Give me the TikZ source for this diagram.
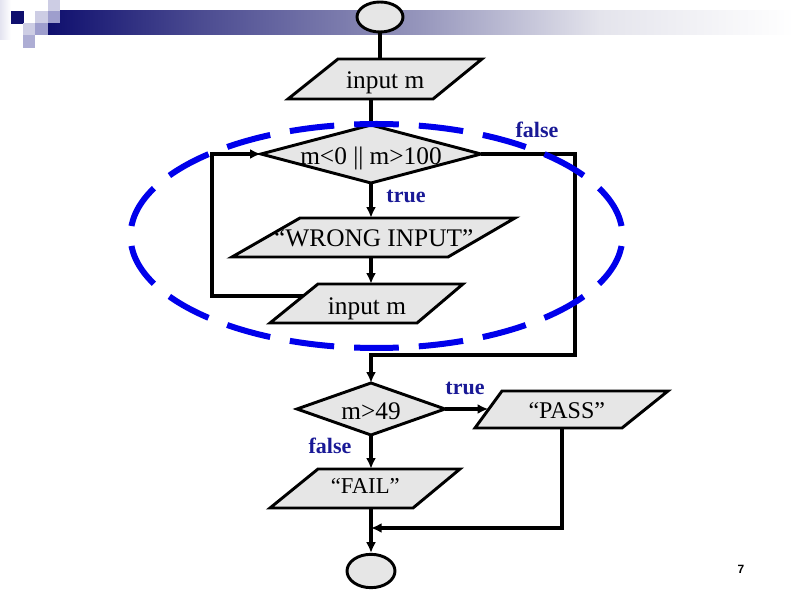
\documentclass[tikz,border=0pt]{standalone}
\usepackage{fontspec}
\setmainfont{Liberation Serif}
\newfontfamily\pgnumfont{Liberation Sans}
\usetikzlibrary{arrows.meta,backgrounds,calc,shapes.geometric}
\definecolor{boxfill}{RGB}{230,230,230}
\definecolor{ringblue}{RGB}{0,0,235}
\definecolor{lblblue}{RGB}{25,25,150}
\definecolor{navy}{RGB}{15,15,110}
\definecolor{barA}{RGB}{75,75,145}
\definecolor{barB}{RGB}{150,150,188}
\definecolor{barC}{RGB}{228,228,236}
\definecolor{sqL}{RGB}{205,205,228}
\definecolor{sqM}{RGB}{158,158,205}
\tikzset{
  shapeline/.style={draw=black, fill=boxfill, line width=2.2pt, line join=miter},
  boxtext/.style={draw=none, inner sep=0pt, font=\fontsize{19}{22}\selectfont, text depth=2pt, text height=17pt},
  terminal/.style={ellipse, draw=black, fill=boxfill, line width=2.2pt, inner sep=0pt},
  flowline/.style={draw=black, line width=2.4pt},
  arr/.style={-{Latex[length=8pt,width=7.5pt]}},
  lbl/.style={text=lblblue, font=\fontsize{16.5}{18}\selectfont\bfseries, inner sep=0pt},
  ring/.style={draw=ringblue, line width=4.5pt, dash pattern=on 33.5pt off 15.02pt, dash phase=41pt}
}
\newcommand\ioshape[9][]{%
  \filldraw[shapeline] (#3,#7) -- (#4,#7) -- (#5,#8) -- (#6,#8) -- cycle;
  \pgfmathsetmacro\myCX{(#3+#4+#5+#6)/4}%
  \pgfmathsetmacro\myCY{(#7+#8)/2}%
  \pgfmathsetmacro\myWW{(#4+#5-#3-#6)/2*0.75}%
  \pgfmathsetmacro\myHH{(#8-#7)*0.75}%
  \node[boxtext, minimum width=\myWW pt, minimum height=\myHH pt, #1] (#2) at (\myCX,\myCY) {#9};
}
\newcommand\decide[7][]{%
  \filldraw[shapeline] ({#3-#5},#4) -- (#3,{#4-#6}) -- ({#3+#5},#4) -- (#3,{#4+#6}) -- cycle;
  \pgfmathsetmacro\myWW{2*#5*0.75}%
  \pgfmathsetmacro\myHH{2*#6*0.75}%
  \node[boxtext, minimum width=\myWW pt, minimum height=\myHH pt, #1] (#2) at (#3,#4) {#7};
}
\begin{document}
\begin{tikzpicture}[x=0.75pt, y=-0.75pt]
\useasboundingbox (0,0) rectangle (794,595);
% decoration bar
\fill[left color=navy, right color=barA] (48,11) rectangle (200,35);
\fill[left color=barA, right color=barB] (199.5,11) rectangle (420,35);
\fill[left color=barB, right color=barC] (419.5,11) rectangle (600,35);
\fill[left color=barC, right color=white] (599.5,11) rectangle (794,35);
\fill[left color={rgb,255:red,228;green,228;blue,240}, right color=white] (0,0) rectangle (11,40);
\fill[navy] (11,11) rectangle (24,24);
\fill[sqL] (23,23) rectangle (35,35);
\fill[sqL] (35,11) rectangle (48,23);
\fill[sqL] (48,0) rectangle (60,11);
\fill[sqM] (48,11) rectangle (60,23);
\fill[sqM] (35,23) rectangle (48,35);
\fill[sqM!85] (23,35) rectangle (35,48);

% shapes
\node[terminal, minimum width=34.5pt, minimum height=22.5pt] (start) at (380,17) {};
\ioshape{p1}{338}{482}{433}{288}{59}{99}{input m}
\decide[text height=18.5pt]{d1}{371}{154}{110}{29}{m<0 || m>100}
\ioshape[text height=16.2pt]{wrong}{300}{515}{448}{232}{218}{257}{“WRONG INPUT”}
\ioshape[text height=17.8pt]{p2}{318}{463}{417}{270}{284}{323}{input m}
\decide[text height=18.5pt]{d2}{371}{409}{74}{26}{m>49}
\ioshape[text height=14.8pt, font=\fontsize{18}{20}\selectfont]{pass}{502}{668}{622}{475}{391}{428}{“PASS”}
\ioshape[text height=10pt, font=\fontsize{17}{20}\selectfont]{fail}{318}{460}{413}{270}{469}{508}{“FAIL”}
\node[terminal, minimum width=36pt, minimum height=25pt] (stop) at (371,571) {};

% coordinates for bends
\coordinate (loopL) at (212,296);
\coordinate (rgt) at (575,355);
\coordinate (pb) at (562,528);

% connectors
\begin{scope}[on background layer]
\draw[flowline, line width=2.4pt, arr] (p2.center |- loopL) -- (loopL) -- (loopL |- d1.west) -- (d1.west);
\end{scope}
\draw[flowline, line width=2.4pt] (start.south) -- (start.south |- p1.north);
\draw[flowline, line width=2.4pt] (d1.north |- p1.south) -- (d1.north);
\draw[flowline, line width=2.4pt, arr] (d1.south) -- (d1.south |- wrong.north);
\draw[flowline, line width=2.4pt, arr] (d1.south |- wrong.south) -- (d1.south |- p2.north);
\draw[flowline, line width=2.4pt, arr] (d1.east) -- (d1.east -| rgt) -- (rgt) -- (rgt -| d2.north) -- (d2.north);
\draw[flowline, line width=2.4pt, arr] (d2.east) -- (pass.west |- d2.east);
\draw[flowline, line width=2.4pt, arr] (d2.south) -- (d2.south |- fail.north);
\draw[flowline, line width=2.4pt, arr] (d2.south |- fail.south) -- (stop.north);
\draw[flowline, line width=2.4pt, arr] (pb |- pass.south) -- (pb) -- (pb -| stop.north);

% dashed ellipse
\draw[ring] (376.5,236) ellipse [x radius=184.5pt, y radius=84pt];

% labels
\node[lbl] (lf1) at (537,130) {false};
\node[lbl] (lt1) at (406,196) {true};
\node[lbl] (lt2) at (465,388) {true};
\node[lbl] (lf2) at (330,446) {false};
\node[font=\pgnumfont\bfseries\fontsize{9}{10}\selectfont, inner sep=0pt] (pg) at (741,569) {7};
\end{tikzpicture}
\end{document}
